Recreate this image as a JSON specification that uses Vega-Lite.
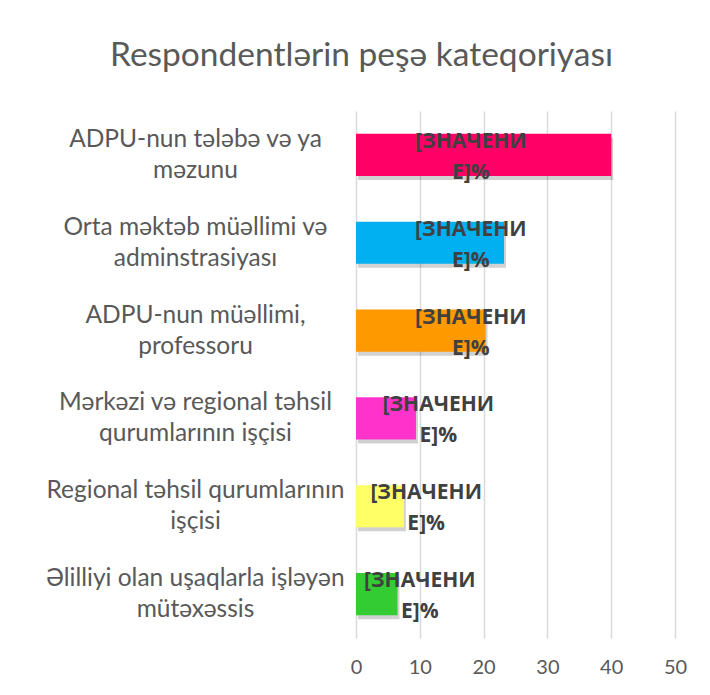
{
  "$schema": "https://vega.github.io/schema/vega-lite/v6.json",
  "width": 319,
  "height": 527,
  "autosize": {"type": "none"},
  "padding": {"left": 356, "top": 111, "right": 35, "bottom": 57},
  "background": "white",
  "title": {
    "text": "Respondentlərin peşə kateqoriyası",
    "font": "Lato",
    "fontSize": 33.5,
    "fontWeight": "normal",
    "color": "#595959",
    "anchor": "middle",
    "dx": -154,
    "offset": 38
  },
  "config": {"view": {"stroke": null}},
  "data": {
    "values": [
      {"category": "ADPU-nun tələbə və ya|məzunu", "value": 40},
      {"category": "Orta məktəb müəllimi və|adminstrasiyası", "value": 23.2},
      {"category": "ADPU-nun müəllimi,|professoru", "value": 20.3},
      {"category": "Mərkəzi və regional təhsil|qurumlarının işçisi", "value": 9.4},
      {"category": "Regional təhsil qurumlarının|işçisi", "value": 7.5},
      {"category": "Əlilliyi olan uşaqlarla işləyən|mütəxəssis", "value": 6.5}
    ]
  },
  "transform": [
    {"calculate": "min(datum.value + 3.5, 18)", "as": "labelPos"}
  ],
  "encoding": {
    "y": {
      "field": "category",
      "type": "nominal",
      "sort": null,
      "scale": {"paddingInner": 0.52, "paddingOuter": 0.26},
      "axis": {
        "title": null,
        "domain": false,
        "ticks": false,
        "labelExpr": "split(datum.value, '|')",
        "labelAlign": "center",
        "labelBaseline": "middle",
        "labelPadding": 161,
        "labelOffset": -15,
        "labelLimit": 400,
        "labelFont": "Lato",
        "labelFontSize": 24.5,
        "labelColor": "#595959",
        "labelLineHeight": 31
      }
    }
  },
  "layer": [
    {
      "mark": {"type": "bar", "color": "#000000", "opacity": 0.18, "xOffset": 2, "yOffset": 4, "y2Offset": 4},
      "encoding": {
        "x": {"field": "value", "type": "quantitative", "scale": {"domain": [0, 50], "nice": false}}
      }
    },
    {
      "mark": {"type": "bar"},
      "encoding": {
        "x": {
          "field": "value",
          "type": "quantitative",
          "scale": {"domain": [0, 50], "nice": false},
          "axis": {
            "title": null,
            "domain": false,
            "ticks": false,
            "grid": true,
            "gridColor": "#d9d9d9",
            "gridWidth": 1.5,
            "values": [0, 10, 20, 30, 40, 50],
            "labelFlush": false,
            "labelFont": "Lato",
            "labelFontSize": 20,
            "labelColor": "#595959",
            "labelPadding": 19
          }
        },
        "color": {
          "field": "category",
          "type": "nominal",
          "legend": null,
          "scale": {
            "domain": [
              "ADPU-nun tələbə və ya|məzunu",
              "Orta məktəb müəllimi və|adminstrasiyası",
              "ADPU-nun müəllimi,|professoru",
              "Mərkəzi və regional təhsil|qurumlarının işçisi",
              "Regional təhsil qurumlarının|işçisi",
              "Əlilliyi olan uşaqlarla işləyən|mütəxəssis"
            ],
            "range": ["#FF0066", "#00B0F0", "#FF9900", "#FF33CC", "#FFFF66", "#33CC33"]
          }
        }
      }
    },
    {
      "mark": {
        "type": "text",
        "text": ["[ЗНАЧЕНИ", "Е]%"],
        "font": "Open Sans",
        "fontSize": 21,
        "fontWeight": "bold",
        "color": "#404040",
        "lineHeight": 31,
        "align": "center",
        "baseline": "middle",
        "dy": -13
      },
      "encoding": {
        "x": {"field": "labelPos", "type": "quantitative", "scale": {"domain": [0, 50], "nice": false}}
      }
    }
  ]
}
